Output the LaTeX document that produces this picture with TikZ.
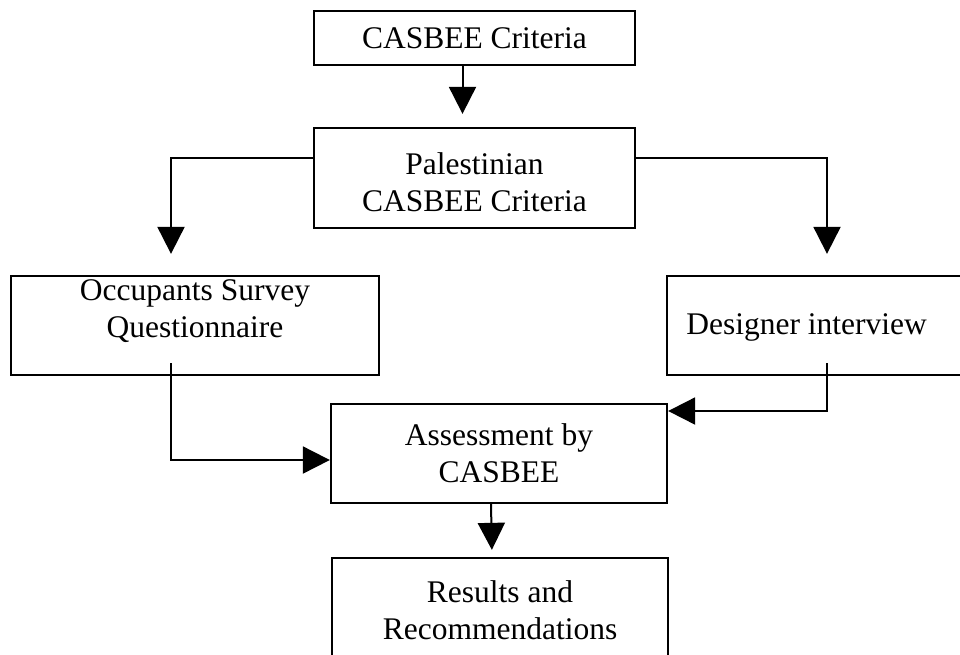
\documentclass[tikz,border=0pt]{standalone}
\usepackage{fontspec}
\setmainfont{Liberation Serif}
\usetikzlibrary{arrows.meta}

\begin{document}
\begin{tikzpicture}[x=1pt,y=1pt,
  box/.style={draw,line width=2.3pt,inner sep=0pt},
  txt/.style={align=center,font=\fontsize{31.5}{37}\selectfont},
  arr/.style={line width=2pt,-{Triangle[length=27pt,width=27pt]}}]
\useasboundingbox (0,0) rectangle (960,-654);
\clip (0,0) rectangle (960,-654);
%boxes
\node[box,minimum width=321pt,minimum height=54pt] (crit) at (474.5,-38) {};
\node[txt] (crittxt) at (crit.center) {CASBEE Criteria};
\node[box,minimum width=321pt,minimum height=100pt] (pal) at (474.5,-178) {};
\node[txt] (paltxt) at ([yshift=-4pt]pal.center) {Palestinian\\CASBEE Criteria};
\node[box,minimum width=368pt,minimum height=99pt] (occ) at (195,-325.5) {};
\node[txt] (occtxt) at ([yshift=14pt]occ.center) {Occupants Survey\\Questionnaire};
\node[box,minimum width=296pt,minimum height=99pt] (des) at (815,-325.5) {};
\node[txt,anchor=west] (destxt) at ([xshift=17pt,yshift=-2pt]des.west) {Designer interview};
\node[box,minimum width=336pt,minimum height=99pt] (ass) at (499,-453.5) {};
\node[txt] (asstxt) at (ass.center) {Assessment by\\CASBEE};
\node[box,minimum width=336pt,minimum height=105pt] (res) at (500,-610.5) {};
\node[txt] (restxt) at (res.center) {Results and\\Recommendations};
%connectors
\draw[arr,shorten >=13pt] ([xshift=-12pt]crit.south) -- ([xshift=-12pt]pal.north);
\draw[arr,shorten >=21pt] ([yshift=20pt]pal.west) -| ([xshift=-24pt]occ.north);
\draw[arr,shorten >=21pt] ([yshift=20pt]pal.east) -| ([xshift=12pt]des.north);
\draw[arr] ([xshift=-24pt,yshift=13pt]occ.south) |- ([yshift=-6.5pt]ass.west);
\draw[arr] ([xshift=12pt,yshift=13pt]des.south) |- ([yshift=42.5pt]ass.east);
\draw[arr,shorten >=7pt] ([xshift=-8pt]ass.south) -- ([xshift=-8pt]res.north);
\end{tikzpicture}
\end{document}
